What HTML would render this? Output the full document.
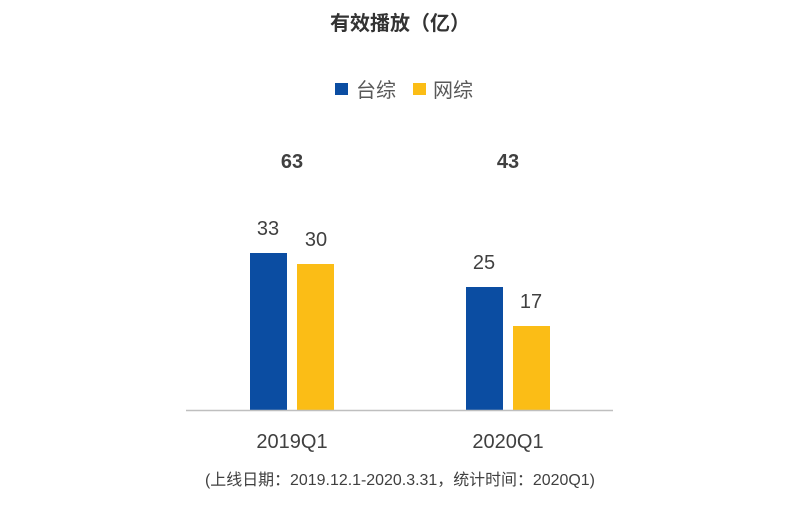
<!DOCTYPE html><html><head><meta charset="utf-8"><style>
body{margin:0;width:800px;height:508px;background:#fff;overflow:hidden}
svg text{font-family:"Liberation Sans","Noto Sans CJK SC",sans-serif}
</style></head><body>
<svg width="800" height="508" xmlns="http://www.w3.org/2000/svg">
<text x="400" y="30" text-anchor="middle" font-size="20" font-weight="bold" fill="#333">有效播放（亿）</text>
<rect x="335" y="83" width="13" height="12" fill="#0b4da2"/>
<text x="356" y="97" font-size="20" fill="#595959">台综</text>
<rect x="413" y="83" width="13" height="12" fill="#fbbd16"/>
<text x="433" y="97" font-size="20" fill="#595959">网综</text>
<text x="292" y="168" text-anchor="middle" font-size="20" font-weight="bold" fill="#404040">63</text>
<text x="508" y="168" text-anchor="middle" font-size="20" font-weight="bold" fill="#404040">43</text>
<rect x="250" y="253" width="37" height="157" fill="#0b4da2"/>
<rect x="297" y="264" width="37" height="146" fill="#fbbd16"/>
<rect x="466" y="287" width="37" height="123" fill="#0b4da2"/>
<rect x="513" y="326" width="37" height="84" fill="#fbbd16"/>
<line x1="186" y1="410.5" x2="613" y2="410.5" stroke="#bfbfbf" stroke-width="1.5"/>
<g font-size="20" fill="#404040" text-anchor="middle">
<text x="268" y="235">33</text><text x="316" y="246">30</text>
<text x="484" y="269">25</text><text x="531" y="308">17</text>
<text x="292" y="448">2019Q1</text><text x="508" y="448">2020Q1</text>
</g>
<text x="400" y="485" text-anchor="middle" font-size="16" fill="#404040" textLength="390" lengthAdjust="spacingAndGlyphs">(上线日期：2019.12.1-2020.3.31，统计时间：2020Q1)</text>
</svg></body></html>
